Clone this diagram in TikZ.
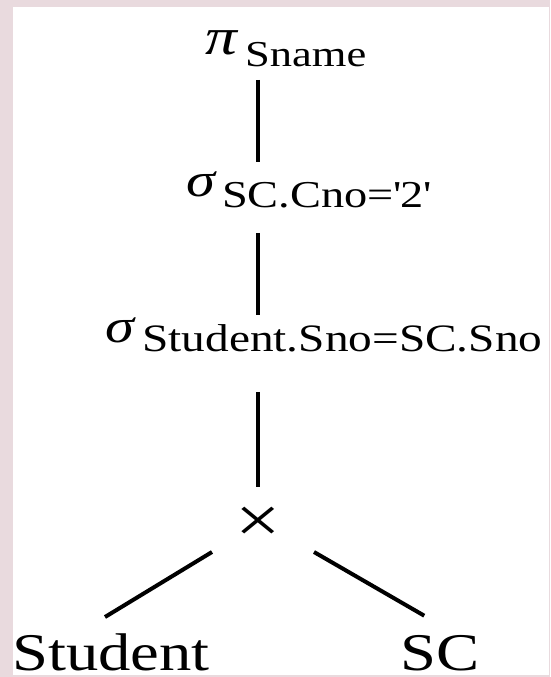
\documentclass[tikz,border=0pt]{standalone}
\usepackage{fontspec}
\setmainfont{Liberation Serif}[FakeStretch=1.22]
\usepackage{tikz}
\usetikzlibrary{calc}

\definecolor{slidebg}{HTML}{E9DADE}

\tikzset{
    edge/.style={line width=4pt},
    opnode/.style={inner sep=0pt, anchor=base west},
    leaf/.style={inner sep=0pt, anchor=base west, font=\fontsize{53}{60}\selectfont},
}

\begin{document}
\begin{tikzpicture}[x=1pt, y=1pt]
    % slide background and white panel
    \fill[slidebg] (0,0) rectangle (550,677);
    \fill[white] (13,2) rectangle (549,670);

    % operators
    \node[opnode] (proj) at (205,622)
        {\makebox[40pt][l]{\fontsize{52}{56}\selectfont\itshape π}\raisebox{-12pt}{\fontsize{36.5}{42}\selectfont Sname}};
    \node[opnode] (sel1) at (186,480)
        {\makebox[36pt][l]{\fontsize{48}{56}\selectfont\itshape σ}\raisebox{-11pt}{\fontsize{38}{42}\selectfont SC.Cno=\textquotesingle 2\textquotesingle}};
    \node[opnode] (sel2) at (105,334)
        {\makebox[37pt][l]{\fontsize{48}{56}\selectfont\itshape σ}\raisebox{-9pt}{\fontsize{38.8}{42}\selectfont Student.Sno=SC.Sno}};
    \node[inner sep=0pt, font=\fontsize{66}{70}\selectfont] (join) at (258,152) {×};

    % relations
    \node[leaf] (student) at (12,6) {Student};
    \node[leaf] (sc) at (400,6) {SC};

    % tree edges
    \draw[edge, shorten <=25pt, shorten >=35pt] (proj.base -| join) -- (sel1.base -| join);
    \draw[edge, shorten <=36pt, shorten >=28pt] (sel1.base -| join) -- (sel2.base -| join);
    \draw[edge, shorten <=49pt, shorten >=38pt] (sel2.base -| join) -- (join.center);
    \draw[edge] ([shift={(-46,-27)}]join.center) -- ([shift={(-6,17)}]student.north);
    \draw[edge] ([shift={(56,-27)}]join.center) -- ([shift={(-15.5,20)}]sc.north);
\end{tikzpicture}
\end{document}
